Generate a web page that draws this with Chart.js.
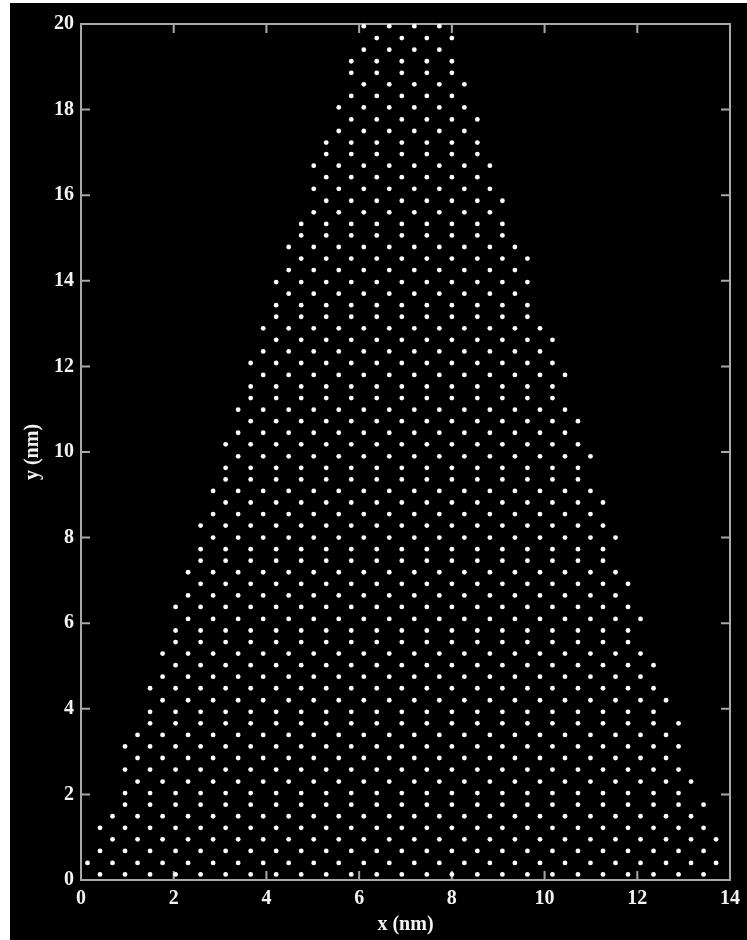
<!DOCTYPE html>
<html>
<head>
<meta charset="utf-8">
<script src="https://cdn.jsdelivr.net/npm/chart.js@4.4.1/dist/chart.umd.min.js"></script>
<style>
  html, body { margin: 0; padding: 0; background: #fff; }
</style>
</head>
<body>
<canvas id="lattice" width="747" height="940"></canvas>
<script>
// x positions (nm) of the two interleaved column sets
const colA = [0.41, 0.95, 1.49, 2.04, 2.58, 3.12, 3.66, 4.21, 4.75, 5.29, 5.83, 6.38, 6.92,
              7.46, 8.00, 8.55, 9.09, 9.63, 10.17, 10.72, 11.26, 11.80, 12.35, 12.89, 13.43];
const colB = [0.14, 0.68, 1.22, 1.76, 2.31, 2.85, 3.39, 3.93, 4.48, 5.02, 5.56, 6.10, 6.65,
              7.19, 7.73, 8.27, 8.82, 9.36, 9.90, 10.44, 10.99, 11.53, 12.07, 12.62, 13.16, 13.70];

// one entry per row of atoms, bottom to top
const rowY = [0.13, 0.40, 0.68, 0.95, 1.22, 1.49, 1.76, 2.03, 2.30, 2.58, 2.85, 3.12, 3.39, 3.66,
              3.93, 4.20, 4.48, 4.75, 5.02, 5.29, 5.56, 5.83, 6.10, 6.38, 6.65, 6.92, 7.19, 7.46,
              7.73, 8.00, 8.28, 8.55, 8.82, 9.09, 9.36, 9.63, 9.90, 10.18, 10.45, 10.72, 10.99, 11.26,
              11.53, 11.80, 12.08, 12.35, 12.62, 12.89, 13.16, 13.43, 13.70, 13.97, 14.25, 14.52, 14.79, 15.06,
              15.33, 15.60, 15.87, 16.15, 16.42, 16.69, 16.96, 17.23, 17.50, 17.77, 18.05, 18.32, 18.59, 18.86,
              19.13, 19.40, 19.67, 19.95];
// 0 = row sits on colA, 1 = row sits on colB
const rowSet = [0,1,0,1,0,1,0, 0,1,0,1,0,1,0, 0,1,0,1,0,1,0, 0,1,0,1,0,1,0, 0,1,0,1,0,1,0,
                0,1,0,1,0,1,0, 0,1,0,1,0,1,0, 0,1,0,1,0,1,0, 0,1,0,1,0,1,0, 0,1,0,1,0,1,0, 0,1,0,1];
// first and last occupied column of each row
const rowFirst = [0,0,0,1,0,1,1, 1,2,1,2,1,2,2, 2,3,2,3,3,3,3, 3,4,3,4,4,4,4, 4,5,4,5,5,5,5,
                  5,6,5,6,6,6,6, 6,7,6,7,7,7,7, 7,8,7,8,8,8,8, 8,9,9,9,9,9,9, 9,10,10,10,10,11,10, 10,11,11,11];
const rowLast = [24,25,24,25,24,24,24, 23,24,23,23,23,23,23, 22,23,22,22,22,22,21, 21,22,21,21,21,21,20,
                 20,21,20,20,20,20,19, 19,20,19,19,19,19,18, 18,19,18,18,18,18,17, 17,17,17,17,17,17,16,
                 16,16,16,16,15,16,15, 15,15,15,15,14,15,14, 14,14,14,14];

const xTicks = [0, 2, 4, 6, 8, 10, 12, 14];
const yTicks = [0, 2, 4, 6, 8, 10, 12, 14, 16, 18, 20];

const points = [];
rowY.forEach((y, j) => {
  const cols = rowSet[j] === 0 ? colA : colB;
  for (let k = rowFirst[j]; k <= rowLast[j]; k++) {
    points.push({ x: cols[k], y: y });
  }
});

const labelFont = { family: 'Liberation Serif', weight: 'bold', size: 20 };
const frameColor = '#a8a8a8';
const textColor = '#f2f2f2';

// black picture on white paper, plus the box with inward ticks
const framePlugin = {
  id: 'frame',
  beforeDraw(chart) {
    const ctx = chart.ctx;
    ctx.save();
    ctx.fillStyle = '#fff';
    ctx.fillRect(0, 0, chart.width, chart.height);
    ctx.fillStyle = '#000';
    ctx.fillRect(10, 3, chart.width - 10, chart.height - 3);
    ctx.restore();
  },
  beforeDatasetsDraw(chart) {
    const { ctx, chartArea: a, scales: { x, y } } = chart;
    ctx.save();
    ctx.strokeStyle = frameColor;
    ctx.lineWidth = 2;
    ctx.strokeRect(a.left, a.top, a.right - a.left, a.bottom - a.top);
    ctx.beginPath();
    xTicks.forEach(v => {
      const px = x.getPixelForValue(v);
      ctx.moveTo(px, a.bottom); ctx.lineTo(px, a.bottom - 9);
      ctx.moveTo(px, a.top); ctx.lineTo(px, a.top + 9);
    });
    yTicks.forEach(v => {
      const py = y.getPixelForValue(v);
      ctx.moveTo(a.left, py); ctx.lineTo(a.left + 9, py);
      ctx.moveTo(a.right, py); ctx.lineTo(a.right - 9, py);
    });
    ctx.stroke();
    ctx.restore();
  }
};

new Chart(document.getElementById('lattice'), {
  type: 'scatter',
  data: {
    datasets: [{
      data: points,
      backgroundColor: '#ffffff',
      borderWidth: 0,
      pointRadius: 2.4,
      clip: false
    }]
  },
  options: {
    responsive: false,
    animation: false,
    devicePixelRatio: 1,
    layout: { padding: { left: 0, right: 14, top: 24, bottom: 0 } },
    plugins: { legend: { display: false }, tooltip: { enabled: false } },
    scales: {
      x: {
        type: 'linear',
        min: 0, max: 14,
        afterBuildTicks: s => { s.ticks = xTicks.map(v => ({ value: v })); },
        afterFit: s => { s.height = 60; },
        grid: { display: false, drawTicks: false },
        border: { display: false },
        ticks: { color: textColor, font: labelFont, padding: 7, maxRotation: 0 },
        title: { display: true, text: 'x (nm)', color: textColor, font: labelFont, padding: { top: 0, bottom: 3 } }
      },
      y: {
        type: 'linear',
        min: 0, max: 20,
        afterBuildTicks: s => { s.ticks = yTicks.map(v => ({ value: v })); },
        afterFit: s => { s.width = 81; },
        grid: { display: false, drawTicks: false },
        border: { display: false },
        ticks: { color: textColor, font: labelFont, padding: 7 },
        title: { display: true, text: 'y (nm)', color: textColor, font: labelFont, padding: { top: 21, bottom: 0 } }
      }
    }
  },
  plugins: [framePlugin]
});
</script>
</body>
</html>
